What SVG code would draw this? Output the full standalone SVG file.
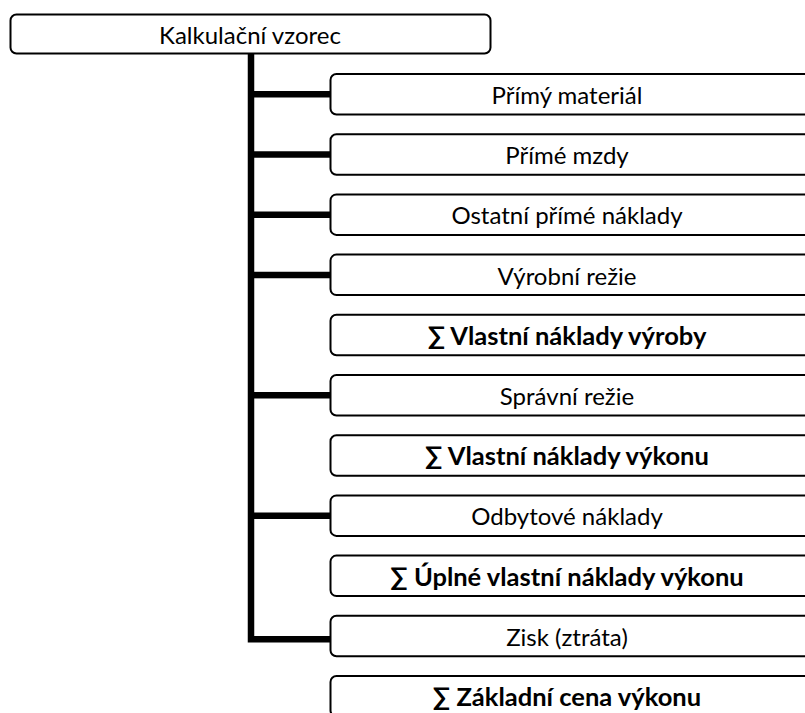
<svg xmlns="http://www.w3.org/2000/svg" width="805" height="713" viewBox="0 0 805 713">
  <style>
    .box { fill: #ffffff; stroke: #000000; stroke-width: 2; }
    .lbl { font-family: Lato, "Open Sans", "Liberation Sans", sans-serif; font-size: 24px; fill: #000000; text-anchor: middle; }
    .sum { font-weight: bold; font-size: 25.5px; }
    .link { fill: none; stroke: #000000; stroke-width: 6.5; stroke-linejoin: miter; }
  </style>
  <rect width="805" height="713" fill="#ffffff"/>

  <!-- connectors: trunk from the root down to the last item, with branches -->
  <g id="connectors">
    <path class="link" d="M251,53 V639.3 H331"/>
    <path class="link" d="M251,94.3 H331"/>
    <path class="link" d="M251,154.5 H331"/>
    <path class="link" d="M251,214.7 H331"/>
    <path class="link" d="M251,274.9 H331"/>
    <path class="link" d="M251,395.3 H331"/>
    <path class="link" d="M251,515.7 H331"/>
  </g>

  <g id="root">
    <rect class="box" x="10.5" y="14.5" width="480" height="39" rx="6"/>
    <text class="lbl" x="250" y="44">Kalkulační vzorec</text>
  </g>

  <g id="n0">
    <rect class="box" x="330.5" y="74" width="490" height="40.5" rx="6"/>
    <text class="lbl" x="567" y="104">Přímý materiál</text>
  </g>
  <g id="n1">
    <rect class="box" x="330.5" y="134.2" width="490" height="40.5" rx="6"/>
    <text class="lbl" x="567" y="164.2">Přímé mzdy</text>
  </g>
  <g id="n2">
    <rect class="box" x="330.5" y="194.4" width="490" height="40.5" rx="6"/>
    <text class="lbl" x="567" y="224.4">Ostatní přímé náklady</text>
  </g>
  <g id="n3">
    <rect class="box" x="330.5" y="254.6" width="490" height="40.5" rx="6"/>
    <text class="lbl" x="567" y="284.6">Výrobní režie</text>
  </g>
  <g id="n4">
    <rect class="box" x="330.5" y="314.8" width="490" height="40.5" rx="6"/>
    <text class="lbl sum" x="567" y="344.8">∑ Vlastní náklady výroby</text>
  </g>
  <g id="n5">
    <rect class="box" x="330.5" y="375" width="490" height="40.5" rx="6"/>
    <text class="lbl" x="567" y="405">Správní režie</text>
  </g>
  <g id="n6">
    <rect class="box" x="330.5" y="435.2" width="490" height="40.5" rx="6"/>
    <text class="lbl sum" x="567" y="465.2">∑ Vlastní náklady výkonu</text>
  </g>
  <g id="n7">
    <rect class="box" x="330.5" y="495.4" width="490" height="40.5" rx="6"/>
    <text class="lbl" x="567" y="525.4">Odbytové náklady</text>
  </g>
  <g id="n8">
    <rect class="box" x="330.5" y="555.6" width="490" height="40.5" rx="6"/>
    <text class="lbl sum" x="567" y="585.6">∑ Úplné vlastní náklady výkonu</text>
  </g>
  <g id="n9">
    <rect class="box" x="330.5" y="615.8" width="490" height="40.5" rx="6"/>
    <text class="lbl" x="567" y="645.8">Zisk (ztráta)</text>
  </g>
  <g id="n10">
    <rect class="box" x="330.5" y="676" width="490" height="40.5" rx="6"/>
    <text class="lbl sum" x="567" y="706">∑ Základní cena výkonu</text>
  </g>
</svg>
